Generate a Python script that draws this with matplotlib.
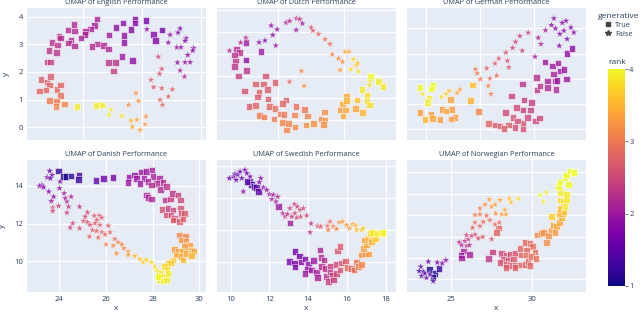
import numpy as np
import matplotlib
matplotlib.use("Agg")
import matplotlib.pyplot as plt
from matplotlib.lines import Line2D
from matplotlib.cm import ScalarMappable
from matplotlib.colors import Normalize

plt.rcParams['font.family'] = ['Open Sans', 'DejaVu Sans']

# (x, y, rank); "true" = generative True (squares), "false" = stars
english_true = [
    (6.47, 3.92, 2.1), (5.69, 3.72, 2.2), (6.40, 3.67, 2.1), (6.25, 3.55, 2.1), (5.49, 3.52, 2.2),
    (5.71, 3.48, 2.2), (6.09, 3.46, 2.1), (6.07, 3.35, 2.1), (5.18, 3.28, 2.3), (5.23, 3.22, 2.2),
    (5.93, 3.22, 2.1), (5.60, 3.13, 2.2), (4.95, 3.07, 2.3), (5.51, 3.04, 2.2), (5.72, 2.94, 2.2),
    (5.14, 2.98, 2.3), (6.50, 3.01, 2.2), (6.31, 2.92, 2.2), (4.84, 2.77, 2.3), (5.10, 2.70, 2.3),
    (6.70, 2.95, 2.2), (6.87, 2.82, 2.2), (4.78, 2.35, 2.4), (4.89, 2.35, 2.4), (6.87, 2.34, 2.3),
    (7.10, 2.34, 2.3), (7.04, 2.04, 2.4), (7.77, 3.92, 1.8), (7.77, 3.76, 1.8), (7.36, 3.76, 1.9),
    (7.12, 3.60, 1.9), (7.64, 3.54, 1.8), (8.14, 3.86, 1.7), (8.40, 3.36, 1.8), (8.68, 3.52, 1.7),
    (8.47, 3.13, 1.8), (7.40, 3.31, 1.9), (6.89, 3.34, 2.0), (7.40, 3.06, 1.9), (7.32, 2.55, 2.0),
    (7.68, 2.41, 1.9), (4.58, 1.73, 2.7), (4.78, 1.63, 2.7), (4.89, 1.83, 2.7), (4.87, 1.53, 2.8),
    (4.75, 1.35, 2.8), (4.52, 1.31, 2.8), (5.12, 1.37, 2.8), (5.23, 1.53, 2.8), (5.23, 1.14, 2.9),
    (4.86, 0.96, 3.0), (5.10, 0.93, 3.0), (5.08, 0.75, 3.1), (5.37, 0.84, 3.1), (5.80, 0.75, 3.9),
    (6.45, 0.78, 3.9), (6.64, 0.81, 3.9),
]
english_false = [
    (6.95, 0.63, 3.9), (6.89, 0.45, 3.9), (7.32, 0.41, 3.8), (7.63, 0.24, 3.5), (7.68, 0.02, 3.4),
    (7.83, 0.27, 3.4), (7.94, -0.10, 3.3), (8.11, 0.11, 3.3), (8.14, 0.39, 3.2), (7.55, 0.81, 3.2),
    (7.80, 1.23, 3.2), (7.89, 0.95, 3.2), (8.31, 1.71, 2.7), (8.40, 1.45, 2.7), (8.68, 1.41, 2.7),
    (9.04, 1.37, 2.7), (8.62, 0.99, 2.8), (8.70, 0.81, 2.8), (8.90, 1.11, 2.8), (8.68, 2.11, 2.6),
    (8.60, 1.93, 2.6), (8.56, 2.55, 2.5), (8.17, 3.54, 1.9), (8.96, 3.34, 1.9), (8.90, 3.06, 1.9),
    (9.30, 3.57, 1.8), (9.23, 3.42, 1.8), (9.50, 3.22, 1.8), (9.47, 3.12, 1.8), (9.19, 2.89, 1.9),
    (9.33, 2.89, 1.9), (9.75, 2.86, 1.8), (9.73, 2.77, 1.8), (9.56, 2.61, 1.9), (9.47, 2.35, 1.9),
    (9.64, 2.35, 1.9), (9.21, 2.34, 1.9), (9.30, 2.05, 2.1), (9.45, 1.83, 2.2),
]

dutch_true = [
    (3.01, 5.53, 2.0), (2.73, 5.21, 2.2), (2.81, 5.06, 2.3), (2.67, 4.95, 2.3), (2.70, 4.68, 2.3),
    (2.67, 4.42, 2.3), (3.01, 4.73, 1.9), (3.47, 5.11, 2.0), (3.03, 4.26, 2.3), (2.78, 4.00, 2.4),
    (3.60, 4.00, 2.6), (3.89, 3.71, 2.7), (3.30, 3.64, 2.7), (3.54, 3.64, 2.7), (3.66, 3.39, 2.7),
    (2.97, 3.32, 2.6), (3.41, 3.26, 2.7), (3.37, 3.05, 2.7), (3.69, 2.95, 2.7), (4.23, 2.91, 2.7),
    (4.12, 2.76, 2.8), (3.11, 2.61, 2.7), (3.31, 2.65, 2.8), (3.73, 2.61, 2.8), (3.90, 2.53, 2.9),
    (3.42, 2.21, 3.0), (3.56, 2.14, 3.0), (4.05, 2.27, 3.0), (4.17, 2.24, 3.0), (4.53, 2.61, 2.9),
    (4.80, 2.48, 3.0), (3.87, 2.05, 3.0), (4.49, 2.23, 3.1), (4.88, 2.18, 3.1), (4.12, 1.89, 3.1),
    (4.30, 1.83, 3.1), (4.25, 1.55, 3.1), (4.51, 1.67, 3.1), (4.84, 1.77, 3.2), (5.07, 1.83, 3.2),
    (5.30, 2.05, 3.1), (5.42, 2.00, 3.2), (5.37, 1.80, 3.2), (5.40, 2.36, 3.2), (6.08, 3.09, 3.4),
    (5.95, 2.73, 3.4), (6.08, 2.88, 3.5), (5.88, 2.45, 3.3), (6.05, 2.45, 3.4), (5.96, 2.18, 3.4),
    (6.34, 2.53, 3.4), (6.56, 2.35, 3.5), (6.39, 2.91, 3.6), (6.69, 3.14, 3.8), (6.54, 3.39, 3.9),
    (6.69, 2.86, 3.8), (6.77, 2.68, 3.8), (6.81, 3.97, 4.0), (7.05, 3.74, 3.9), (7.19, 3.52, 3.9),
]
dutch_false = [
    (2.51, 5.15, 2.2), (2.85, 5.52, 2.2), (3.01, 5.74, 2.3), (3.41, 5.53, 1.9), (3.59, 5.61, 1.8),
    (3.78, 6.29, 1.9), (3.96, 6.12, 1.9), (3.83, 5.86, 1.9), (3.92, 5.38, 2.0), (4.23, 6.42, 2.2),
    (4.34, 6.50, 2.2), (4.55, 6.62, 2.3), (4.65, 6.58, 2.3), (4.73, 6.39, 2.0), (4.54, 6.09, 2.0),
    (5.00, 6.20, 2.6), (5.05, 6.06, 2.7), (5.22, 5.91, 2.8), (5.42, 5.67, 2.9), (5.57, 5.45, 2.8),
    (5.64, 4.98, 3.1), (5.83, 4.79, 3.2), (5.95, 4.65, 3.2), (5.88, 4.27, 3.3), (6.03, 5.11, 3.4),
    (6.15, 5.11, 3.4), (6.28, 4.76, 3.8), (6.36, 4.47, 3.6), (6.41, 4.58, 3.6), (6.20, 4.30, 3.8),
    (6.44, 4.20, 3.8), (6.79, 3.77, 3.9), (6.77, 3.59, 3.8), (4.70, 4.23, 3.1), (4.34, 3.74, 2.8),
    (4.78, 3.55, 3.2),
]

german_true = [
    (1.78, 1.66, 4.0), (2.27, 1.73, 4.0), (2.19, 1.60, 4.0), (2.11, 1.25, 3.9), (2.05, 1.06, 3.9),
    (3.72, 1.76, 3.6), (2.91, 1.19, 3.4), (3.65, 1.14, 3.5), (2.60, 0.79, 3.3), (2.95, 0.79, 3.3),
    (2.74, 0.73, 3.4), (1.78, 0.67, 3.3), (2.19, 0.59, 3.3), (2.25, 0.44, 3.4), (2.52, 0.40, 3.3),
    (1.96, 0.40, 3.5), (3.07, 0.48, 3.3), (2.93, 0.42, 3.3), (3.94, 0.70, 3.1), (4.31, 0.24, 2.8),
    (4.58, 0.17, 2.7), (4.74, 0.13, 2.7), (5.05, 0.17, 2.7), (4.89, 0.04, 2.7), (5.30, 0.08, 2.6),
    (5.60, 0.04, 2.6), (5.60, 0.26, 2.6), (5.23, 0.48, 2.6), (5.40, 0.34, 2.6), (5.77, 0.48, 2.5),
    (6.05, 0.34, 2.5), (6.20, 0.45, 2.5), (4.95, 0.66, 2.5), (5.36, 0.87, 2.5), (5.60, 0.77, 2.4),
    (5.88, 0.77, 2.4), (5.64, 1.16, 2.4), (5.91, 1.06, 2.4), (5.17, 1.33, 2.4), (5.58, 1.80, 2.3),
    (6.10, 2.06, 2.2), (6.12, 1.56, 2.3), (6.22, 1.72, 2.3), (6.51, 1.66, 2.2), (6.81, 1.58, 2.2),
    (6.51, 1.91, 2.1), (6.78, 1.91, 2.1), (6.86, 1.93, 2.0), (7.21, 1.99, 2.0), (6.72, 2.19, 2.1),
    (6.96, 2.31, 2.0), (7.12, 2.38, 2.0), (6.41, 2.68, 2.0), (6.68, 2.52, 2.0), (6.90, 2.64, 2.0),
    (7.23, 3.01, 1.9), (7.42, 3.21, 1.9),
]
german_false = [
    (6.74, 4.40, 1.9), (7.05, 4.22, 1.8), (7.19, 4.30, 1.8), (6.65, 4.13, 1.9), (6.80, 4.00, 1.9),
    (7.11, 3.91, 1.8), (6.96, 3.78, 1.8), (7.37, 4.04, 1.8), (7.48, 3.84, 1.8), (7.23, 3.58, 1.7),
    (6.94, 3.31, 1.8), (6.43, 3.93, 2.1), (6.16, 3.63, 2.1), (6.26, 3.38, 2.1), (6.04, 2.88, 2.0),
    (5.79, 3.83, 2.4), (5.48, 3.70, 2.4), (5.32, 3.47, 2.5), (5.57, 3.12, 2.4), (5.21, 3.23, 2.5),
    (4.96, 3.05, 2.6), (4.70, 2.81, 2.7), (5.02, 2.72, 2.6), (5.07, 2.46, 2.6), (4.56, 2.61, 2.7),
    (4.25, 2.42, 2.8), (3.84, 2.38, 3.0), (3.90, 2.22, 3.0), (4.02, 1.99, 3.0), (4.37, 2.02, 2.9),
    (4.62, 2.13, 2.9), (4.31, 1.72, 3.1), (4.41, 1.40, 3.0), (3.26, 1.58, 3.3), (3.16, 1.45, 3.4),
    (2.86, 1.53, 3.6), (2.74, 1.40, 3.7), (2.58, 1.29, 3.8), (1.88, 1.40, 3.9), (2.06, 1.12, 3.9),
]

danish_true = [
    (23.97, 14.80, 1.2), (24.18, 14.50, 1.1), (24.28, 14.50, 1.1), (24.51, 14.53, 1.2), (24.85, 14.58, 1.3),
    (24.82, 14.35, 1.2), (25.57, 14.28, 1.5), (25.89, 14.41, 1.6), (26.31, 14.46, 1.7), (26.98, 14.46, 1.9),
    (26.95, 14.18, 2.0), (27.23, 14.58, 1.9), (27.30, 14.41, 2.0), (27.52, 14.73, 2.0), (27.73, 14.76, 2.0),
    (27.97, 14.85, 2.1), (28.01, 14.50, 2.1), (27.62, 14.41, 2.0), (27.80, 14.23, 2.1), (27.45, 14.14, 2.0),
    (28.30, 14.41, 2.1), (28.16, 14.14, 2.2), (27.94, 14.05, 2.2), (28.44, 14.18, 2.2), (28.33, 13.82, 2.2),
    (28.58, 13.96, 2.3), (27.73, 13.52, 2.1), (27.80, 13.38, 2.1), (27.94, 13.31, 2.2), (28.55, 13.26, 2.3),
    (28.77, 13.31, 2.4), (28.84, 13.61, 2.3), (29.08, 13.52, 2.4), (29.19, 13.26, 2.5), (28.65, 12.81, 2.4),
    (28.87, 12.73, 2.5), (28.40, 12.76, 2.6), (28.58, 12.46, 2.6), (28.79, 12.46, 2.6), (28.94, 12.28, 2.6),
    (29.19, 12.81, 2.6), (29.22, 12.55, 2.6), (29.36, 12.55, 2.7), (29.15, 12.11, 2.7), (29.29, 12.25, 2.7),
    (28.87, 12.19, 2.7), (29.15, 11.40, 3.1), (29.40, 11.31, 3.1), (29.22, 11.13, 3.2), (29.43, 11.04, 3.2),
    (29.57, 10.87, 3.3), (29.36, 10.78, 3.3), (29.65, 10.60, 3.4), (29.76, 10.55, 3.4), (28.94, 10.64, 3.3),
    (29.11, 10.51, 3.3), (29.26, 10.51, 3.4), (29.01, 10.34, 3.4), (29.22, 10.25, 3.4), (29.43, 10.42, 3.4),
    (29.65, 10.30, 3.5), (29.29, 10.07, 3.5), (28.87, 10.07, 3.6), (28.75, 9.95, 3.6), (28.65, 9.89, 3.7),
    (28.51, 9.72, 3.8), (28.61, 9.59, 3.8), (28.30, 9.36, 3.8), (28.37, 9.19, 3.9), (28.30, 9.01, 3.9),
    (28.44, 8.96, 3.9), (28.58, 9.01, 3.9), (28.23, 9.19, 4.0), (28.65, 9.36, 3.9),
]
danish_false = [
    (23.59, 14.80, 1.6), (23.69, 14.58, 1.7), (23.48, 14.46, 1.7), (23.62, 14.41, 1.6), (23.26, 14.05, 1.7),
    (23.16, 14.00, 1.8), (23.33, 13.93, 1.8), (23.55, 13.70, 1.8), (23.76, 13.43, 1.9), (23.66, 13.20, 2.0),
    (24.04, 14.23, 1.8), (24.01, 13.88, 1.9), (24.21, 13.61, 2.0), (24.26, 13.35, 2.1), (24.51, 13.43, 2.1),
    (24.33, 13.17, 2.2), (24.40, 12.90, 2.3), (24.33, 12.58, 2.4), (24.87, 12.90, 2.3), (23.97, 12.94, 2.4),
    (23.72, 12.85, 2.5), (23.72, 12.67, 2.5), (24.58, 12.02, 2.5), (24.47, 11.79, 2.5), (24.87, 11.75, 2.6),
    (25.21, 12.60, 2.5), (25.11, 12.37, 2.5), (25.04, 12.14, 2.6), (25.21, 12.07, 2.6), (25.32, 11.93, 2.6),
    (25.50, 12.42, 2.7), (25.72, 12.42, 2.7), (25.82, 12.32, 2.7), (25.60, 12.19, 2.7), (25.53, 12.02, 2.7),
    (25.74, 11.93, 2.7), (25.43, 11.66, 2.7), (25.60, 11.61, 2.8), (25.82, 11.54, 2.8), (25.29, 11.31, 2.8),
    (25.67, 11.26, 2.9), (26.10, 11.89, 2.7), (26.17, 11.54, 2.8), (25.96, 11.43, 2.8), (26.38, 11.19, 2.9),
    (26.52, 11.01, 3.0), (26.67, 10.90, 3.1), (26.00, 10.90, 3.1), (26.31, 10.83, 3.1), (26.77, 10.69, 3.1),
    (26.45, 10.42, 3.2), (26.95, 10.51, 3.2), (26.95, 10.34, 3.3), (27.23, 10.28, 3.5), (27.45, 10.12, 3.6),
    (27.59, 9.95, 3.7), (27.73, 10.07, 3.7), (27.94, 9.95, 3.8), (28.09, 9.72, 3.8), (28.16, 9.54, 3.9),
]

swedish_true = [
    (10.96, 15.00, 1.3), (11.08, 14.83, 1.3), (11.20, 14.69, 1.4), (11.34, 14.63, 1.4), (11.43, 14.38, 1.5),
    (10.83, 15.00, 1.4), (12.46, 13.44, 2.0), (13.06, 12.40, 2.0), (13.32, 10.63, 1.6), (13.03, 10.00, 1.7),
    (13.29, 9.90, 1.7), (13.32, 9.65, 1.7), (13.55, 10.35, 1.7), (13.63, 9.96, 1.8), (13.84, 10.15, 1.8),
    (14.01, 9.83, 1.9), (13.96, 9.54, 1.9), (13.84, 9.27, 2.0), (14.27, 10.06, 2.0), (14.18, 9.48, 2.0),
    (14.44, 9.33, 2.1), (14.49, 9.00, 2.1), (14.61, 10.73, 2.1), (14.66, 10.25, 2.2), (14.82, 10.10, 2.2),
    (14.70, 9.69, 2.2), (14.87, 9.58, 2.3), (14.96, 9.06, 2.3), (15.13, 9.38, 2.3), (15.27, 9.13, 2.4),
    (15.04, 8.75, 2.4), (15.16, 9.73, 2.4), (15.30, 8.85, 2.4), (15.47, 9.27, 2.5), (15.44, 9.83, 2.5),
    (15.65, 9.48, 2.6), (15.73, 9.90, 2.6), (15.52, 10.67, 2.6), (15.65, 10.94, 2.7), (15.94, 10.04, 2.7),
    (16.02, 9.63, 2.8), (16.25, 9.58, 2.8), (16.37, 9.48, 2.9), (16.51, 9.96, 2.9), (16.59, 9.69, 3.0),
    (16.76, 9.83, 3.1), (16.76, 10.42, 3.2), (16.97, 10.46, 3.2), (17.11, 10.46, 3.3), (16.85, 10.83, 3.3),
    (17.02, 11.04, 3.4), (16.90, 11.35, 3.4), (17.11, 11.46, 3.5), (17.28, 11.25, 3.5), (17.37, 11.63, 3.6),
    (17.49, 11.42, 3.7), (17.19, 11.77, 3.8), (17.33, 11.83, 3.9), (17.57, 11.77, 3.9), (17.80, 11.77, 3.9),
    (17.88, 11.83, 4.0),
]
swedish_false = [
    (9.93, 15.21, 1.6), (10.14, 15.31, 1.6), (10.22, 15.48, 1.5), (10.36, 15.42, 1.6), (10.48, 15.62, 1.6),
    (10.74, 15.73, 1.7), (10.83, 15.52, 1.6), (11.00, 15.31, 1.7), (10.28, 15.10, 1.6), (10.57, 15.21, 1.6),
    (10.65, 14.38, 1.9), (11.55, 15.21, 1.8), (11.48, 14.96, 1.8), (11.69, 14.63, 1.9), (11.86, 14.48, 1.9),
    (12.00, 14.21, 2.0), (12.12, 13.90, 2.0), (12.20, 14.17, 2.0), (12.43, 14.06, 2.1), (12.34, 13.75, 2.1),
    (12.69, 13.02, 2.2), (12.81, 12.81, 2.3), (12.93, 12.96, 2.3), (13.06, 13.33, 2.4), (13.29, 13.58, 2.4),
    (13.44, 13.44, 2.4), (13.58, 13.23, 2.5), (13.32, 13.02, 2.5), (13.41, 12.75, 2.5), (13.75, 13.33, 2.5),
    (13.92, 12.88, 2.5), (13.61, 12.81, 2.6), (13.15, 12.81, 2.4), (14.15, 12.38, 2.3), (14.10, 11.83, 2.3),
    (14.49, 12.23, 2.6), (14.65, 12.19, 2.7), (15.01, 12.23, 2.8), (15.13, 12.50, 2.9), (15.04, 11.98, 3.0),
    (15.30, 12.19, 3.1), (15.47, 12.04, 3.1), (15.61, 12.46, 3.2), (15.78, 12.50, 3.3), (15.99, 12.29, 3.3),
    (16.13, 12.08, 3.3), (16.30, 12.33, 3.4), (16.47, 12.25, 3.5), (16.51, 11.98, 3.5), (16.76, 11.98, 3.6),
    (16.85, 12.08, 3.7),
]

norwegian_true = [
    (23.69, 0.47, 1.1), (24.04, 0.28, 1.1), (24.30, 0.51, 1.2), (23.93, 0.12, 1.2), (25.78, 1.32, 2.1),
    (25.64, 1.14, 2.0), (26.15, 1.17, 2.1), (25.68, 1.01, 2.0), (27.32, 0.98, 2.3), (27.58, 1.29, 2.4),
    (27.93, 2.41, 2.8), (27.83, 2.20, 2.8), (28.14, 1.21, 2.5), (28.40, 1.14, 2.6), (28.65, 1.17, 2.6),
    (28.95, 1.21, 2.6), (28.24, 0.93, 2.6), (28.55, 0.90, 2.6), (28.85, 0.95, 2.7), (28.03, 0.79, 2.6),
    (28.40, 0.70, 2.7), (28.69, 0.64, 2.7), (28.95, 0.64, 2.7), (29.26, 0.67, 2.8), (29.57, 0.70, 2.8),
    (29.77, 0.83, 2.8), (29.88, 0.64, 2.8), (28.40, 0.55, 2.7), (28.95, 0.55, 2.7), (29.26, 1.45, 2.8),
    (29.57, 1.73, 2.8), (29.88, 1.68, 2.8), (30.04, 1.53, 2.9), (30.18, 1.29, 2.9), (29.67, 1.37, 2.8),
    (29.36, 1.14, 2.8), (29.67, 1.14, 2.9), (29.98, 1.06, 2.9), (30.25, 0.98, 2.9), (30.33, 2.07, 3.1),
    (30.59, 2.15, 3.2), (30.70, 2.20, 3.2), (30.90, 1.73, 3.2), (31.00, 2.04, 3.2), (31.21, 2.31, 3.3),
    (31.31, 2.54, 3.3), (31.52, 2.46, 3.4), (31.41, 2.20, 3.3), (31.68, 2.66, 3.4), (31.82, 2.88, 3.5),
    (31.89, 3.08, 3.5), (31.68, 3.08, 3.5), (31.72, 3.32, 3.6), (31.97, 3.16, 3.6), (31.21, 2.93, 3.7),
    (31.72, 3.71, 3.8), (31.93, 3.63, 3.8), (32.13, 3.71, 3.9), (32.03, 3.40, 3.9), (31.76, 4.05, 3.9),
    (32.13, 3.97, 3.9), (31.62, 4.33, 4.0), (31.72, 4.56, 4.0), (32.03, 4.77, 4.0), (32.13, 4.88, 4.0),
    (32.34, 5.06, 4.0), (32.58, 5.00, 4.0), (32.23, 4.44, 4.0),
]
norwegian_false = [
    (23.16, 0.59, 1.5), (23.32, 0.36, 1.4), (23.07, 0.39, 1.4), (23.22, 0.16, 1.4), (23.52, 0.08, 1.4),
    (23.93, -0.08, 1.4), (23.63, 0.83, 1.6), (24.18, 0.79, 1.7), (24.49, 0.75, 1.7), (24.71, 0.90, 1.8),
    (23.42, 0.28, 1.5), (23.73, 0.23, 1.5), (25.53, 1.73, 2.2), (25.68, 1.60, 2.2), (25.98, 1.57, 2.3),
    (26.15, 1.60, 2.2), (25.88, 1.79, 2.3), (26.09, 1.88, 2.4), (25.98, 2.07, 2.5), (26.29, 2.04, 2.5),
    (26.50, 2.10, 2.6), (26.70, 1.92, 2.6), (26.97, 1.99, 2.7), (27.52, 1.88, 2.7), (26.35, 2.41, 2.8),
    (26.50, 2.66, 2.9), (26.80, 2.49, 2.8), (27.01, 2.69, 2.9), (26.50, 3.01, 3.0), (26.80, 3.04, 3.0),
    (27.21, 2.98, 2.9), (27.42, 2.77, 2.9), (27.73, 2.57, 2.8), (27.99, 2.66, 2.9), (26.80, 3.32, 3.1),
    (27.11, 3.50, 3.2), (27.38, 3.74, 3.3), (27.52, 3.40, 3.3), (27.73, 3.50, 3.3), (28.03, 3.71, 3.4),
    (27.77, 3.08, 3.2), (28.14, 3.04, 3.3), (28.34, 3.24, 3.4), (28.40, 3.04, 3.4), (28.61, 3.78, 3.6),
    (28.71, 3.60, 3.6), (29.16, 3.78, 3.8), (30.49, 3.94, 4.0), (30.70, 3.63, 3.9), (30.90, 4.07, 3.9),
]

titles = ["English", "Dutch", "German", "Danish", "Swedish", "Norwegian"]
groups = [
    (english_true, english_false), (dutch_true, dutch_false), (german_true, german_false),
    (danish_true, danish_false), (swedish_true, swedish_false), (norwegian_true, norwegian_false),
]

# per-panel axis ranges and grid positions
xlims = [(4.10, 10.18), (2.13, 7.58), (1.30, 7.93), (22.62, 30.28), (9.29, 18.54), (22.32, 33.32)]
ylims = [(-0.46, 4.31), (1.09, 7.09), (-0.42, 4.81), (8.37, 15.38), (8.10, 16.35), (-0.59, 5.58)]
xticks = [[6, 8, 10], [4, 6], [2, 4, 6], [24, 26, 28, 30], [10, 12, 14, 16, 18], [25, 30]]
yticks = [[0, 1, 2, 3, 4], [2, 3, 4, 5, 6, 7], [0, 1, 2, 3, 4], [10, 12, 14], [10, 12, 14, 16], [0, 1, 2, 3, 4, 5]]

W, H = 640, 313
txt = '#2a3f5f'
cmap = plt.get_cmap('plasma')
norm = Normalize(1, 4)

fig = plt.figure(figsize=(6.4, 3.13), dpi=100)

lefts = [27, 217, 407]
tops = [8, 160]
pw, ph = 179, 132

for i, (tr, fa) in enumerate(groups):
    row, col = divmod(i, 3)
    ax = fig.add_axes([lefts[col] / W, 1 - (tops[row] + ph) / H, pw / W, ph / H])
    ax.set_facecolor('#e5ecf6')
    for s in ax.spines.values():
        s.set_visible(False)
    ax.set_xlim(*xlims[i])
    ax.set_ylim(*ylims[i])
    ax.set_xticks(xticks[i])
    ax.set_yticks(yticks[i])
    ax.grid(True, color='white', lw=0.9)
    ax.set_axisbelow(True)
    ax.tick_params(length=0, labelsize=5.5, labelcolor=txt, pad=3)
    if row == 0:
        ax.tick_params(labelbottom=False)
    if col != 0:
        ax.tick_params(labelleft=False)

    t = np.array(tr)
    f = np.array(fa)
    ax.scatter(t[:, 0], t[:, 1], c=t[:, 2], cmap=cmap, norm=norm, marker='s', s=22,
               edgecolors='white', linewidths=0.45, alpha=0.8, zorder=3)
    ax.scatter(f[:, 0], f[:, 1], c=f[:, 2], cmap=cmap, norm=norm, marker='*', s=34,
               edgecolors='white', linewidths=0.3, alpha=0.8, zorder=3)

    ax.set_title(f"UMAP of {titles[i]} Performance", fontsize=5.3, color=txt, pad=3)
    if col == 0:
        ax.set_ylabel('y', fontsize=6, color=txt, labelpad=6)
    if row == 1:
        ax.set_xlabel('x', fontsize=6, color=txt, labelpad=1)

# colorbar
cax = fig.add_axes([608 / W, 1 - 286 / H, 17 / W, 217 / H])
cb = fig.colorbar(ScalarMappable(norm=norm, cmap=cmap), cax=cax, ticks=[1, 2, 3, 4])
cb.outline.set_visible(False)
cb.ax.tick_params(labelsize=5.5, labelcolor=txt, length=2, width=0.5, color='#444444', pad=1)
fig.text(617 / W, 1 - 62 / H, 'rank', fontsize=6, color=txt, ha='center', va='center')

# legend for generative
handles = [
    Line2D([], [], marker='s', ls='none', color='#444444', markersize=3.5),
    Line2D([], [], marker='*', ls='none', color='#444444', markersize=4),
]
leg = fig.legend(handles, ['True', 'False'], title='generative', loc='upper left',
                 bbox_to_anchor=(594 / W, 1 - 9 / H), frameon=False, fontsize=5.3,
                 title_fontsize=6, handlelength=1.0, handletextpad=0.5,
                 labelspacing=0.25, borderpad=0)
leg.get_title().set_color(txt)
for tx in leg.get_texts():
    tx.set_color(txt)

fig.savefig('out.png', dpi=100)
